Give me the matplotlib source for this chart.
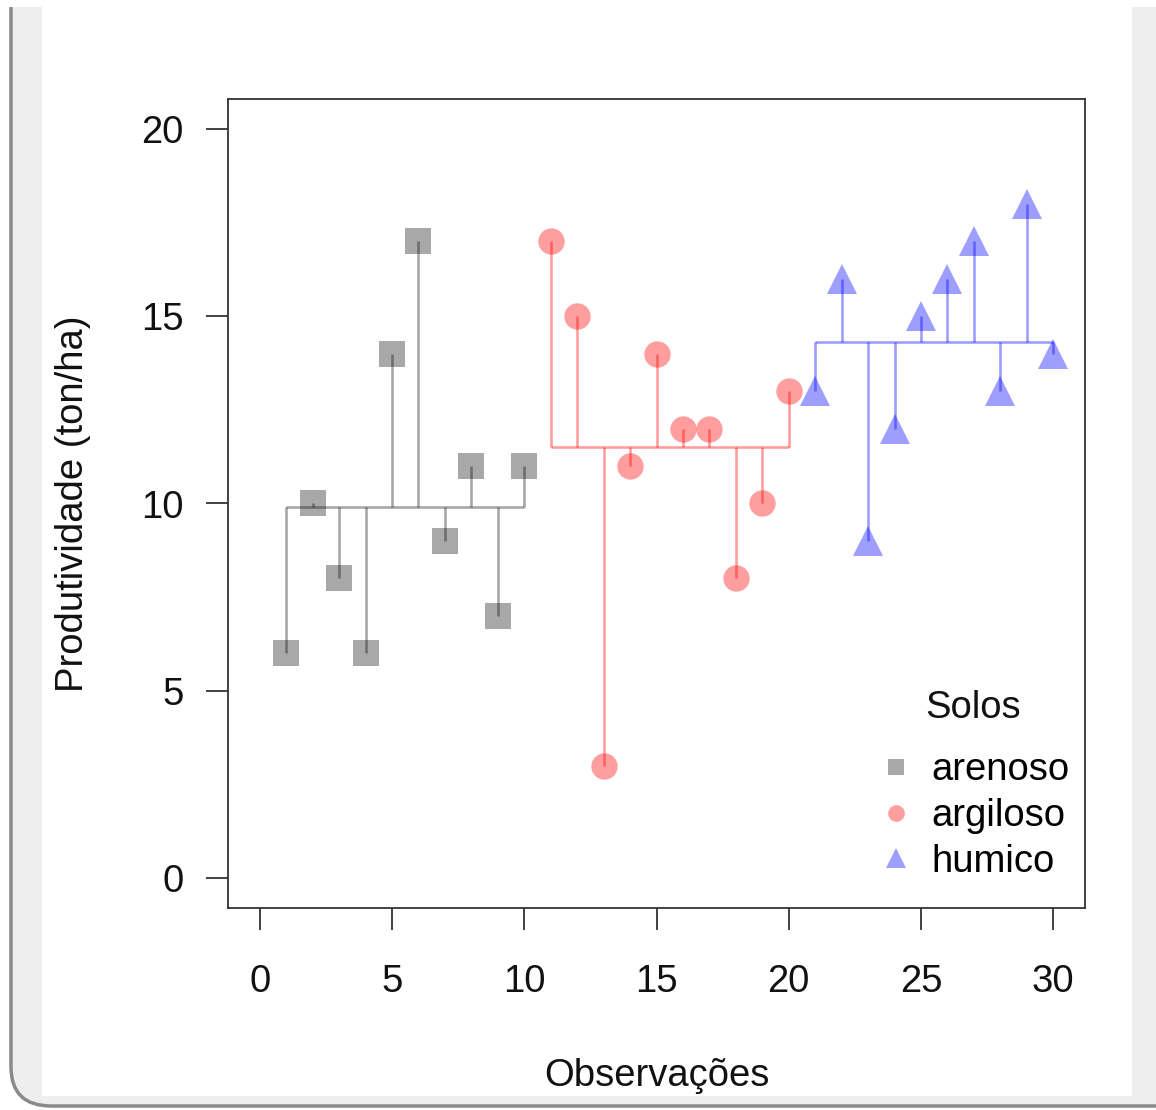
import matplotlib
matplotlib.use("Agg")
import matplotlib.pyplot as plt
from matplotlib.patches import FancyBboxPatch, Rectangle
from matplotlib.lines import Line2D
import numpy as np

plt.rcParams['font.family'] = ['Liberation Sans', 'DejaVu Sans']

# ---- data ----
groups = ["arenoso", "argiloso", "humico"]
obs_arenoso = [1, 2, 3, 4, 5, 6, 7, 8, 9, 10]
prod_arenoso = [6, 10, 8, 6, 14, 17, 9, 11, 7, 11]
obs_argiloso = [11, 12, 13, 14, 15, 16, 17, 18, 19, 20]
prod_argiloso = [17, 15, 3, 11, 14, 12, 12, 8, 10, 13]
obs_humico = [21, 22, 23, 24, 25, 26, 27, 28, 29, 30]
prod_humico = [13, 16, 9, 12, 15, 16, 17, 13, 18, 14]
x_ticks = [0, 5, 10, 15, 20, 25, 30]
y_ticks = [0, 5, 10, 15, 20]

W, H = 1156, 1110
FS = 27.5
fig = plt.figure(figsize=(W / 100, H / 100), dpi=100)
fig.patch.set_facecolor('white')

# screenshot card background
card = FancyBboxPatch((11 / W, 1 - 1106 / H), (W + 40 - 11) / W, (1106 + 60) / H,
                      boxstyle="round,pad=0,rounding_size=0.035",
                      transform=fig.transFigure, facecolor='#eeeeee',
                      edgecolor='#8a8a8a', linewidth=2.5, zorder=-3)
fig.patches.append(card)
panel = Rectangle((42 / W, 1 - 1096 / H), (1132 - 42) / W, (1096 - 7) / H,
                  transform=fig.transFigure, facecolor='white', edgecolor='none', zorder=-2)
fig.patches.append(panel)
topstrip = Rectangle((0, 1 - 7 / H), 1, 7 / H, transform=fig.transFigure,
                     facecolor='white', edgecolor='none', zorder=-1)
fig.patches.append(topstrip)

ax_l, ax_r, ax_t, ax_b = 228, 1085, 99, 908
ax = fig.add_axes([ax_l / W, 1 - ax_b / H, (ax_r - ax_l) / W, (ax_b - ax_t) / H])
ax.set_facecolor('none')
ax.set_xlim(-1.2, 31.2)
ax.set_ylim(-0.8, 20.8)

series = [
    (obs_arenoso, prod_arenoso, (0, 0, 0, 0.34), 's', 19),
    (obs_argiloso, prod_argiloso, (1, 0, 0, 0.38), 'o', 19),
    (obs_humico, prod_humico, (0, 0, 1, 0.38), '^', 22),
]
for xs, ys, col, mk, ms in series:
    m = np.mean(ys)
    ax.plot([xs[0], xs[-1]], [m, m], color=col, lw=1.9, solid_capstyle='butt', zorder=2)
    ax.vlines(xs, m, ys, color=col, lw=1.9, zorder=2)
    ax.plot(xs, ys, linestyle='none', marker=mk, markersize=ms, color=col,
            markeredgewidth=0, zorder=3)

for s in ax.spines.values():
    s.set_color('#333333')
    s.set_linewidth(1.3)

ax.set_xticks(x_ticks)
ax.set_yticks(y_ticks)
ax.tick_params(axis='both', direction='out', length=15.5, width=1.3, color='#333333',
               labelsize=FS, labelcolor='#111111')
ax.tick_params(axis='x', pad=24.5)
ax.tick_params(axis='y', pad=16.5)
ax.set_xlabel('Observações', fontsize=FS, labelpad=42, color='#111111')
ax.set_ylabel('Produtividade (ton/ha)', fontsize=FS, labelpad=36, color='#111111')

handles = [Line2D([], [], linestyle='none', marker=mk, markersize=12 if mk != '^' else 14,
                  color=col, markeredgewidth=0) for _, _, col, mk, _ in series]
leg = ax.legend(handles, groups, loc='center left',
                bbox_to_anchor=(877 / W, 1 - 816 / H), bbox_transform=fig.transFigure,
                frameon=False, fontsize=FS, handletextpad=0.42, labelspacing=0.25,
                borderpad=0, borderaxespad=0, handlelength=1.0)
fig.text(973 / W, 1 - 708 / H, 'Solos', fontsize=FS, ha='center', va='center',
         color='#111111')

fig.savefig('out.png', dpi=100)
